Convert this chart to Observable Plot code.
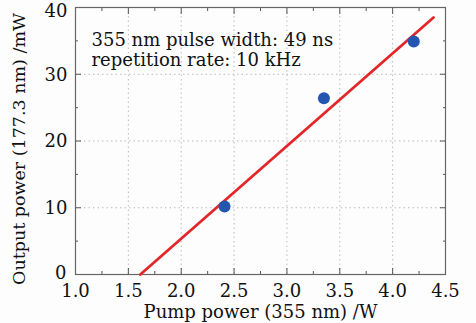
<!DOCTYPE html>
<html><head>
<meta charset="utf-8">
<script src="https://cdn.jsdelivr.net/npm/d3@7"></script>
<script src="https://cdn.jsdelivr.net/npm/@observablehq/plot@0.6"></script>
<style>body{margin:0;background:#fdfdfd;} #chart svg{display:block;}</style>
</head><body><div id="chart"></div>
<script>
const pumpPower = [2.41, 3.35, 4.20];
const outputPower = [10.2, 26.4, 34.9];
const fitPump = [1.613, 4.387];
const fitOutput = [0, 38.5];
const xTicks = [1.0, 1.5, 2.0, 2.5, 3.0, 3.5, 4.0, 4.5];
const xMinor = [1.25, 1.75, 2.25, 2.75, 3.25, 3.75, 4.25];
const yTicks = [0, 10, 20, 30, 40];
const yMinor = [5, 15, 25, 35];
const notes = ["355 nm pulse width: 49 ns", "repetition rate: 10 kHz"];
const xLabel = "Pump power (355 nm) /W";
const yLabel = "Output power (177.3 nm) /mW";

const points = pumpPower.map((x, i) => ({x, y: outputPower[i]}));
const fit = fitPump.map((x, i) => ({x, y: fitOutput[i]}));
const font = "DejaVu Serif";
const tickColor = "#555";
const yBottom = yTicks.slice(0, 1);
const yTop = yTicks.slice(-1);
const yMid = yTicks.slice(1, -1);

const chart = Plot.plot({
  width: 476,
  height: 323,
  marginLeft: 75,
  marginRight: 31,
  marginTop: 7,
  marginBottom: 49,
  style: {fontFamily: font, fontSize: "17px", background: "#fdfdfd", color: "#111"},
  x: {domain: [1.0, 4.5]},
  y: {domain: [0, 40]},
  marks: [
    Plot.gridX(xTicks, {stroke: "#bbb", strokeOpacity: 1, strokeDasharray: "1.5,3"}),
    Plot.gridY(yTicks, {stroke: "#bbb", strokeOpacity: 1, strokeDasharray: "1.5,3"}),
    // inward ticks
    Plot.axisX(xTicks, {anchor: "bottom", tickSize: -6, text: null, label: null, stroke: tickColor}),
    Plot.axisX(xMinor, {anchor: "bottom", tickSize: -3, text: null, label: null, stroke: tickColor}),
    Plot.axisX(xTicks, {anchor: "top", tickSize: -6, text: null, label: null, stroke: tickColor}),
    Plot.axisX(xMinor, {anchor: "top", tickSize: -3, text: null, label: null, stroke: tickColor}),
    Plot.axisY(yTicks, {anchor: "left", tickSize: -6, text: null, label: null, stroke: tickColor}),
    Plot.axisY(yMinor, {anchor: "left", tickSize: -3, text: null, label: null, stroke: tickColor}),
    Plot.axisY(yTicks, {anchor: "right", tickSize: -6, text: null, label: null, stroke: tickColor}),
    Plot.axisY(yMinor, {anchor: "right", tickSize: -3, text: null, label: null, stroke: tickColor}),
    // tick labels and axis titles
    Plot.axisX(xTicks, {anchor: "bottom", tickSize: 0, tickPadding: 10, tickFormat: d3.format(".1f"),
      fontSize: 18, label: xLabel, labelAnchor: "center", labelOffset: 43, labelArrow: "none"}),
    Plot.axisY(yMid, {anchor: "left", tickSize: 0, tickPadding: 8, fontSize: 18, dy: 0.5, label: null}),
    Plot.axisY(yBottom, {anchor: "left", tickSize: 0, tickPadding: 9, fontSize: 18, dy: -1.5, label: null}),
    Plot.axisY(yTop, {anchor: "left", tickSize: 0, tickPadding: 8, fontSize: 18, dy: 3.5, label: null}),
    Plot.text([yLabel], {frameAnchor: "left", rotate: -90, dx: -56, dy: 8, textAnchor: "middle",
      lineAnchor: "middle", fontSize: 17.5, fill: "#111"}),
    Plot.frame({stroke: "#666", strokeWidth: 1.2}),
    Plot.line(fit, {x: "x", y: "y", stroke: "#e3262a", strokeWidth: 2.8}),
    Plot.dot(points, {x: "x", y: "y", r: 6, fill: "#2455b0", stroke: "none"}),
    Plot.text([notes.join("\n")], {frameAnchor: "top-left", dx: 16, dy: 24, textAnchor: "start",
      lineAnchor: "top", lineHeight: 1.12, fontSize: 18, fill: "#111"})
  ]
});
document.getElementById("chart").appendChild(chart);
</script>
</body></html>
